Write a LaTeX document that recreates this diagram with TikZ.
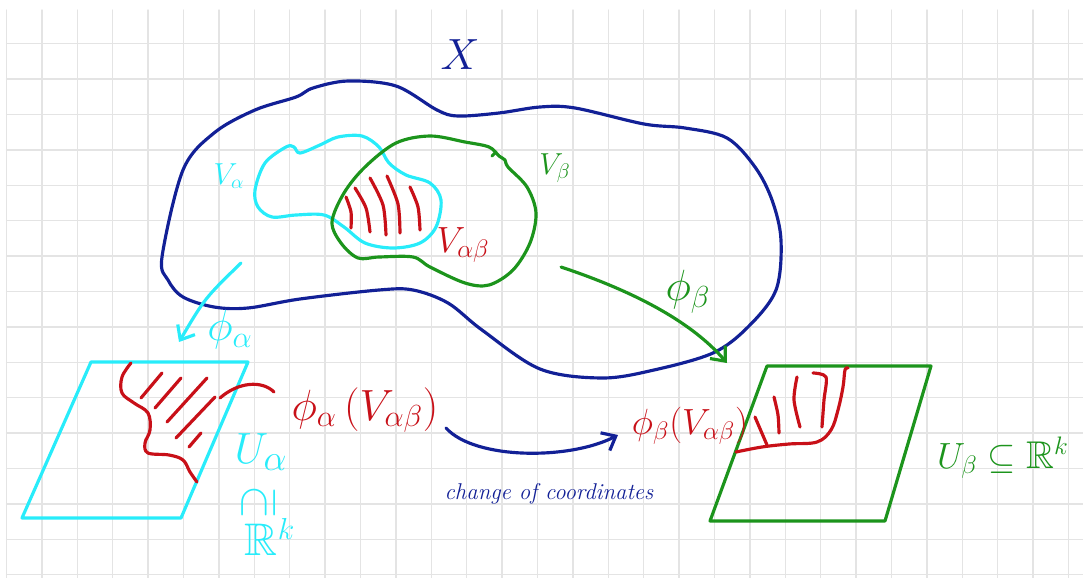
\documentclass[tikz,border=0pt]{standalone}
\usepackage{amsmath}
\usepackage{amssymb}
\usepackage{xcolor}
\usepackage{tikz}
\usetikzlibrary{arrows.meta,positioning,calc}
\definecolor{azul}{RGB}{18,32,150}
\definecolor{cian}{RGB}{40,236,250}
\definecolor{verde}{RGB}{28,148,28}
\definecolor{rojo}{RGB}{200,16,24}
\definecolor{rejilla}{RGB}{228,228,228}

\begin{document}
\begin{tikzpicture}[x=0.02cm,y=-0.02cm,line cap=round,line join=round]
\useasboundingbox (0,0) rectangle (1083,578);
\foreach \i in {0,...,30}
  \draw[rejilla,line width=0.8pt] (6.5+35.4*\i,10) -- (6.5+35.4*\i,578);
\foreach \j in {0,...,15}
  \draw[rejilla,line width=0.8pt] (6.5,43.7+35.4*\j) -- (1083,43.7+35.4*\j);

\draw[azul,line width=1.8pt] plot[smooth cycle,tension=0.55] coordinates {
 (162,257) (183,170) (214,133) (255,110) (296,97) (313,88) (348,81) (396,86)
 (437,110) (458,116) (499,113) (540,107) (575,108) (644,124) (685,128) (727,138)
 (755,167) (772,200) (781,240) (776,290) (748,327) (713,353) (654,370) (602,378)
 (540,369) (482,330) (448,303) (413,290) (379,290) (300,299) (248,308) (214,307)
 (183,297) (168,280)};
\draw[cian,line width=1.8pt] plot[smooth cycle,tension=0.55] coordinates {
 (255,190) (265,163) (286,147) (294,147) (300,153) (320,145) (338,137) (362,136)
 (379,147) (389,163) (406,175) (430,183) (441,200) (436,227) (420,243) (393,248)
 (365,243) (344,227) (324,215) (296,215) (272,217) (258,207)};
\draw[verde,line width=1.8pt] plot[smooth cycle,tension=0.55] coordinates {
 (332,222) (344,193) (365,167) (396,143) (430,136) (465,142) (489,147) (499,156)
 (505,160) (508,167) (527,187) (536,213) (530,243) (513,270) (489,285) (465,283)
 (430,267) (413,257) (379,257) (358,258) (341,243)};
\draw[verde,line width=1.8pt] (492,156) -- (496,152);

\draw[rojo,line width=1.8pt] plot[smooth] coordinates {(346,197) (351,212) (351,228)};
\draw[rojo,line width=1.8pt] plot[smooth] coordinates {(355,188) (366,208) (370,232)};
\draw[rojo,line width=1.8pt] plot[smooth] coordinates {(370,178) (383,205) (386,235)};
\draw[rojo,line width=1.8pt] plot[smooth] coordinates {(387,176) (398,204) (400,233)};
\draw[rojo,line width=1.8pt] plot[smooth] coordinates {(410,187) (418,207) (420,230)};

\node[azul,font=\fontsize{34}{34}\selectfont] (X) at (460,55) {$X$};
\node[cian,font=\fontsize{16}{16}\selectfont] (Va) at (229,176) {$V_\alpha$};
\node[verde,font=\fontsize{18}{18}\selectfont] (Vb) at (555,168) {$V_\beta$};
\node[rojo,font=\fontsize{20}{20}\selectfont] (Vab) at (463,245) {$V_{\alpha\beta}$};

\draw[cian,line width=1.8pt] (91,362) -- (248,362) -- (181,518) -- (22,518) -- cycle;
\draw[verde,line width=1.8pt] (767,366) -- (931,366) -- (885,521) -- (710,521) -- cycle;

\draw[rojo,line width=1.8pt] plot[smooth,tension=0.6] coordinates {(131,363) (122,377) (122,393)
 (134,403) (148,413) (150,430) (145,443) (148,453) (169,455) (183,460) (190,472) (197,482)};
\draw[rojo,line width=1.8pt] (162,373) -- (141,398);
\draw[rojo,line width=1.8pt] (181,378) -- (155,408);
\draw[rojo,line width=1.8pt] (207,378) -- (167,422);
\draw[rojo,line width=1.8pt] (215,397) -- (176,438);
\draw[rojo,line width=1.8pt] (201,433) -- (189,447);

\draw[rojo,line width=1.8pt] plot[smooth,tension=0.6] coordinates {(736,452) (762,447) (789,444)
 (817,442) (831,430) (838,410) (843,387) (845,370) (848,368)};
\draw[rojo,line width=1.8pt] (755,417) -- (767,445);
\draw[rojo,line width=1.8pt] plot[smooth] coordinates {(774,397) (778,415) (779,433)};
\draw[rojo,line width=1.8pt] plot[smooth] coordinates {(797,377) (794,400) (800,427)};
\draw[rojo,line width=1.8pt] plot[smooth] coordinates {(813,373) (826,377) (824,400) (822,427)};

\node[cian,font=\fontsize{24}{24}\selectfont] (fa) at (230,330) {$\phi_\alpha$};
\node[verde,font=\fontsize{24}{24}\selectfont] (fb) at (688,292) {$\phi_\beta$};
\node[cian,font=\fontsize{28}{28}\selectfont] (Ua) at (261,452) {$U_\alpha$};
\node[cian,rotate=90,font=\fontsize{26}{26}\selectfont] (sub) at (259,502) {$\supseteq$};
\node[cian,font=\fontsize{26}{26}\selectfont] (Rk) at (270,537) {$\mathbb{R}^k$};
\node[rojo,font=\fontsize{24}{24}\selectfont] (faV) at (365,410) {$\phi_\alpha\,(V_{\alpha\beta})$};
\node[rojo,font=\fontsize{22}{22}\selectfont] (fbV) at (690,426) {$\phi_\beta(V_{\alpha\beta})$};
\node[verde,font=\fontsize{22}{22}\selectfont] (Ub) at (1003,458) {$U_\beta\subseteq\mathbb{R}^k$};
\node[azul,font=\fontsize{13}{13}\selectfont\itshape] (cc) at (549,494) {change of coordinates};

\coordinate (a1) at (241,263);
\coordinate (a2) at (179,342);
\coordinate (b1) at (561,267);
\coordinate (b2) at (727,363);
\coordinate (c1) at (446,428);
\coordinate (c2) at (618,435);
\coordinate (r1) at (220,398);
\coordinate (r2) at (274,392);
\draw[cian,line width=1.8pt,-{Straight Barb[length=2.4mm,width=4mm]}] (a1) .. controls (205,298) .. (a2);
\draw[verde,line width=1.8pt,-{Straight Barb[length=2.4mm,width=4mm]}] (b1) .. controls (630,290) and (690,320) .. (b2);
\draw[azul,line width=1.8pt,-{Straight Barb[length=2.4mm,width=4mm]}] (c1) .. controls (475,460) and (570,460) .. (c2);
\draw[rojo,line width=1.8pt] (r1) .. controls (238,382) and (262,380) .. (r2);
\end{tikzpicture}
\end{document}
